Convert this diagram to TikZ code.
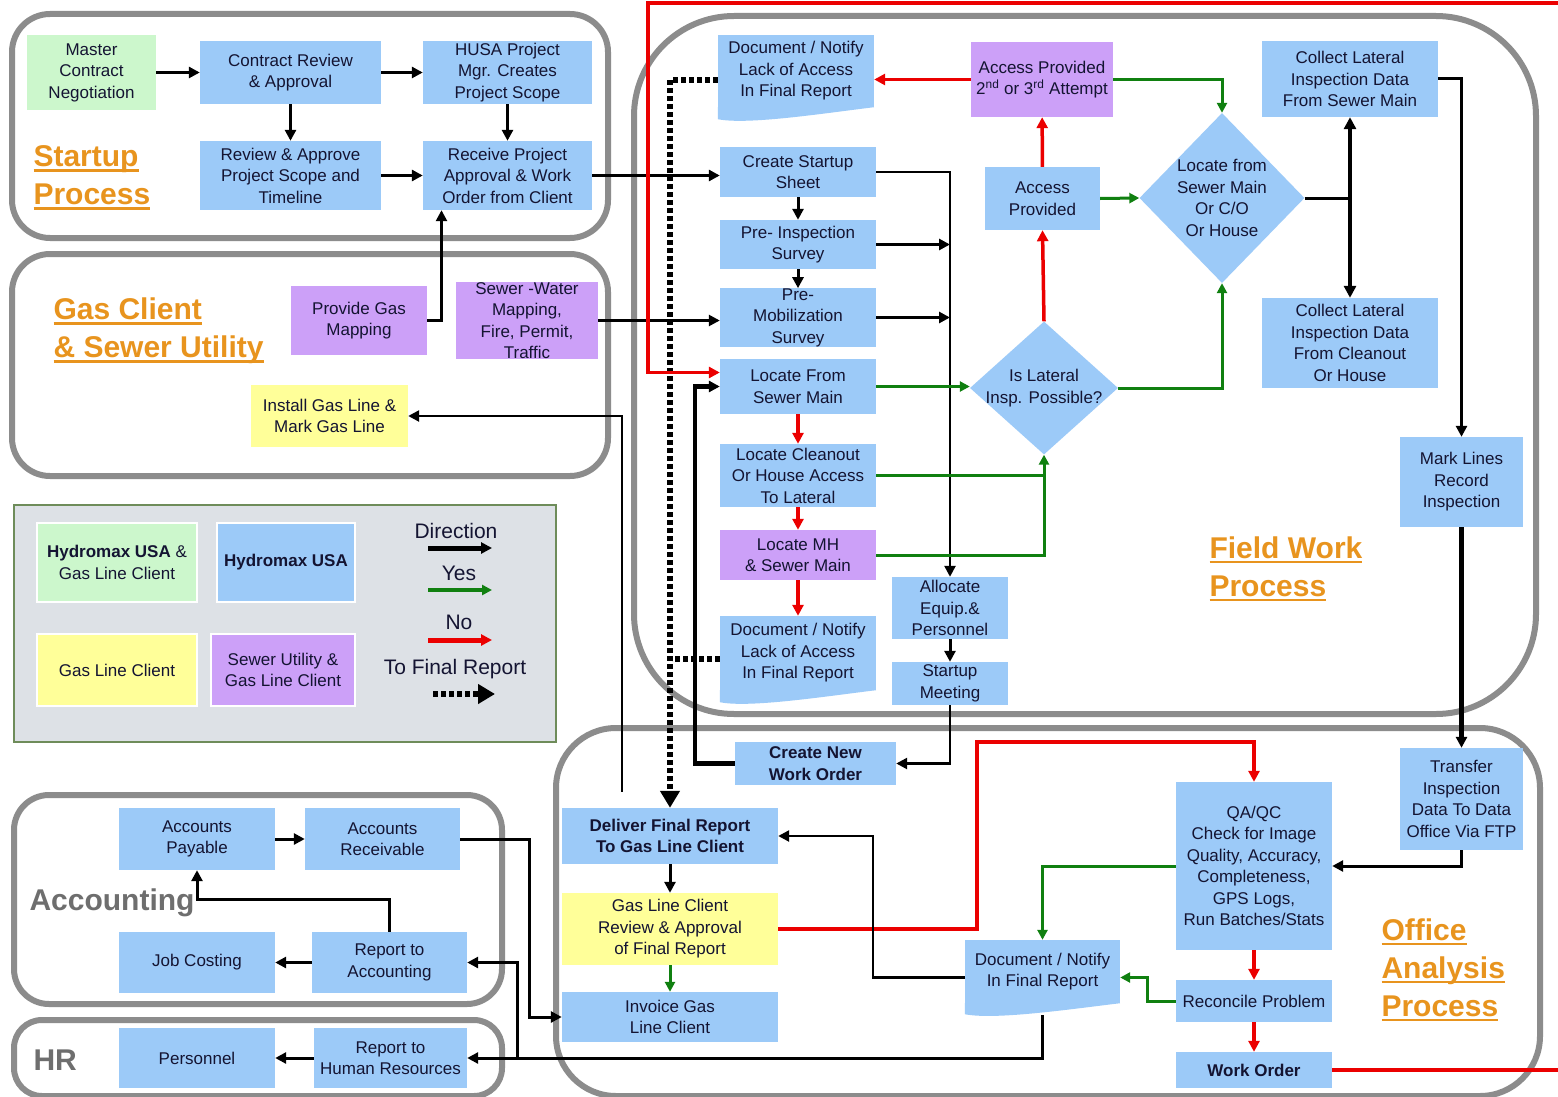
\documentclass[tikz,border=0pt]{standalone}
\usepackage{fontspec}
\setmainfont{Liberation Sans}
\usetikzlibrary{arrows.meta,shapes.geometric}

\definecolor{hblue}{RGB}{156,202,248}
\definecolor{hpurple}{RGB}{204,160,248}
\definecolor{hyellow}{RGB}{255,255,153}
\definecolor{hgreen}{RGB}{204,247,204}
\definecolor{framegray}{RGB}{140,140,140}
\definecolor{orng}{RGB}{232,148,30}
\definecolor{ttlgray}{RGB}{110,110,110}
\definecolor{grnline}{RGB}{16,128,16}
\definecolor{redline}{RGB}{235,0,0}
\definecolor{legbg}{RGB}{221,225,230}
\definecolor{legedge}{RGB}{110,140,90}
\definecolor{txtc}{RGB}{20,20,50}

\newcommand{\orul}[1]{\setbox0=\hbox{#1}\rlap{\rule[-5pt]{\wd0}{2.5pt}}\box0}

\begin{document}
\begin{tikzpicture}[x=1pt, y=-1pt,
    hb/.style={fill=hblue, inner sep=0pt, align=center, text=txtc, font=\fontsize{17}{21.5}\selectfont},
    hp/.style={hb, fill=hpurple},
    hy/.style={hb, fill=hyellow},
    hg/.style={hb, fill=hgreen},
    sz/.style 2 args={minimum width=#1, minimum height=#2},
    dmd/.style={diamond, fill=hblue, inner sep=0pt},
    dtxt/.style={align=center, text=txtc, font=\fontsize{17}{21.5}\selectfont},
    grp/.style={draw=framegray, line width=6pt},
    ttl/.style={anchor=west, align=left, text=orng, font=\fontsize{30}{38}\selectfont\bfseries},
    legtxt/.style={text=txtc, font=\fontsize{21}{25}\selectfont},
    blk/.style={draw=black, line width=3pt, -{Triangle[length=11pt,width=11pt]}},
    grn/.style={draw=grnline, line width=3pt, -{Triangle[length=10pt,width=10pt]}},
    rd/.style={draw=redline, line width=3.5pt, -{Triangle[length=11pt,width=11pt]}},
    dots/.style={draw=black, line width=6pt, dash pattern=on 5pt off 3pt, -{Triangle[length=17pt,width=19pt]}}
  ]
  \useasboundingbox (0,0) rectangle (1558,1097);
  \fill[white] (0,0) rectangle (1558,1097);

  % group frames
  \draw[grp, rounded corners=38pt] (12,14) rectangle (608,238);
  \draw[grp, rounded corners=38pt] (12,254) rectangle (608,476);
  \draw[grp, rounded corners=100pt] (634,16) rectangle (1536,714);
  \draw[grp, rounded corners=60pt] (556,728) rectangle (1540,1096);
  \draw[grp, rounded corners=35pt] (14,795) rectangle (502,1004);
  \draw[grp, rounded corners=28pt] (14,1020) rectangle (502,1096);
  \draw[draw=legedge, fill=legbg, line width=1.5pt] (14,505) rectangle (556,742);

  % titles
  \node[ttl] (tstart) at (30,178) {\orul{Startup}\\\orul{Process}};
  \node[ttl] (tgas) at (50,331) {\orul{Gas Client}\\\orul{\& Sewer Utility}};
  \node[ttl] (tfield) at (1206,569) {\orul{Field Work}\\\orul{Process}};
  \node[ttl] (toffice) at (1378,970) {\orul{Office}\\\orul{Analysis}\\\orul{Process}};
  \node[ttl, text=ttlgray] (tacct) at (26,903) {Accounting};
  \node[ttl, text=ttlgray] (thr) at (30,1060) {HR};

  % startup process
  \node[hg, sz={129}{75}] (master) at (91.5,72.5) {Master\\Contract\\Negotiation};
  \node[hb, sz={181}{63}] (contract) at (290.5,72.5) {Contract Review\\\& Approval};
  \node[hb, sz={169}{63}] (husa) at (507.5,72.5) {HUSA Project\\Mgr. Creates\\Project Scope};
  \node[hb, sz={181}{69}] (revscope) at (290.5,175.5) {Review \& Approve\\Project Scope and\\Timeline};
  \node[hb, sz={169}{69}] (receive) at (507.5,175.5) {Receive Project\\Approval \& Work\\Order from Client};

  % gas client and sewer utility
  \node[hp, sz={136}{69}] (gasmap) at (359,320.5) {Provide Gas\\Mapping};
  \node[hp, sz={142}{69}] (sewer) at (527,320.5) {Sewer -Water\\Mapping,\\Fire, Permit,\\Traffic};
  \node[hy, sz={157}{62}] (install) at (329.5,416) {Install Gas Line \&\\Mark Gas Line};

  % legend
  \node[hg, sz={160}{79}, draw=white, line width=1.5pt] (lg1) at (117,562.5) {\textbf{Hydromax USA} \&\\Gas Line Client};
  \node[hb, sz={138}{79}, draw=white, line width=1.5pt] (lg2) at (286,562.5) {\textbf{Hydromax USA}};
  \node[hy, sz={160}{72}, draw=white, line width=1.5pt] (lg3) at (117,670) {Gas Line Client};
  \node[hp, sz={144}{72}, draw=white, line width=1.5pt] (lg4) at (283,670) {Sewer Utility \&\\Gas Line Client};
  \node[legtxt] (legdir) at (456,531) {Direction};
  \node[legtxt] (legyes) at (459,573) {Yes};
  \node[legtxt] (legno) at (459,622) {No};
  \node[legtxt] (legfin) at (455,669) {To Final Report};

  % field work process
  \node[hb, sz={156}{72}] (doc1) at (796,71) {Document / Notify\\Lack of Access\\In Final Report};
  \node[hp, sz={142}{75}] (accprov2) at (1042,79.5) {Access Provided\\2\textsuperscript{nd} or 3\textsuperscript{rd} Attempt};
  \node[hb, sz={156}{50}] (createstart) at (798,172) {Create Startup\\Sheet};
  \node[hb, sz={156}{49}] (preinsp) at (798,244.5) {Pre- Inspection\\Survey};
  \node[hb, sz={156}{49}] (premob) at (798,317.5) {Pre-\\Mobilization\\Survey};
  \node[hb, sz={156}{55}] (locfrom) at (798,386.5) {Locate From\\Sewer Main};
  \node[hb, sz={156}{63}] (locclean) at (798,475.5) {Locate Cleanout\\Or House Access\\To Lateral};
  \node[hp, sz={156}{50}] (locmh) at (798,555) {Locate MH\\\& Sewer Main};
  \node[hb, sz={156}{74}] (doc2) at (798,653) {Document / Notify\\Lack of Access\\In Final Report};
  \node[hb, sz={116}{62}] (allocate) at (950,608) {Allocate\\Equip.\&\\Personnel};
  \node[hb, sz={116}{43}] (startmeet) at (950,683.5) {Startup\\Meeting};
  \node[hb, sz={115}{63}] (accprov) at (1042.5,198.5) {Access\\Provided};
  \node[dmd, sz={148}{133}, label={[dtxt]center:{Is Lateral\\Insp. Possible?}}] (islat) at (1044,388) {};
  \node[dmd, sz={165}{170}, label={[dtxt]center:{Locate from\\Sewer Main\\Or C/O\\Or House}}] (locsm) at (1222,198) {};
  \node[hb, sz={176}{76}] (collect1) at (1350,79) {Collect Lateral\\Inspection Data\\From Sewer Main};
  \node[hb, sz={176}{90}] (collect2) at (1350,343) {Collect Lateral\\Inspection Data\\From Cleanout\\Or House};
  \node[hb, sz={123}{90}] (marklines) at (1461.5,482) {Mark Lines\\Record\\Inspection};

  % office analysis process
  \node[hb, sz={161}{43}, font=\fontsize{17}{21.5}\selectfont\bfseries] (createnew) at (815.5,763.5) {Create New\\Work Order};
  \node[hb, sz={216}{56}, font=\fontsize{17}{21.5}\selectfont\bfseries] (deliver) at (670,836) {Deliver Final Report\\To Gas Line Client};
  \node[hy, sz={216}{72}] (gasreview) at (670,929) {Gas Line Client\\Review \& Approval\\of Final Report};
  \node[hb, sz={216}{50}] (invoice) at (670,1017) {Invoice Gas\\Line Client};
  \node[hb, sz={155}{63}] (doc3) at (1042.5,971.5) {Document / Notify\\In Final Report};
  \node[hb, sz={156}{168}] (qaqc) at (1254,866) {QA/QC\\Check for Image\\Quality, Accuracy,\\Completeness,\\GPS Logs,\\Run Batches/Stats};
  \node[hb, sz={156}{42}] (reconcile) at (1254,1001) {Reconcile Problem};
  \node[hb, sz={156}{36}, font=\fontsize{17}{21.5}\selectfont\bfseries] (workorder) at (1254,1070) {Work Order};
  \node[hb, sz={123}{102}] (transfer) at (1461.5,799) {Transfer\\Inspection\\Data To Data\\Office Via FTP};

  % accounting and hr
  \node[hb, sz={156}{62}] (ap) at (197,839) {Accounts\\Payable};
  \node[hb, sz={155}{62}] (ar) at (382.5,839) {Accounts\\Receivable};
  \node[hb, sz={156}{61}] (jobcost) at (197,962.5) {Job Costing};
  \node[hb, sz={155}{61}] (rptacct) at (389.5,962.5) {Report to\\Accounting};
  \node[hb, sz={156}{60}] (personnel) at (197,1058) {Personnel};
  \node[hb, sz={153}{60}] (rpthr) at (390.5,1058) {Report to\\Human Resources};

  % document flaps
  \fill[hblue] (doc1.south west) -- ++(0,12) .. controls +(30,6) and +(-50,6) .. (doc1.south east) -- cycle;
  \fill[hblue] (doc2.south west) -- ++(0,12) .. controls +(30,6) and +(-50,6) .. (doc2.south east) -- cycle;
  \fill[hblue] (doc3.south west) -- ++(0,11) .. controls +(30,6) and +(-50,6) .. (doc3.south east) -- cycle;

  % startup connectors
  \draw[blk] (master) -- (contract);
  \draw[blk] (contract) -- (husa);
  \draw[blk] (contract) -- (revscope);
  \draw[blk] (husa) -- (receive);
  \draw[blk] (revscope) -- (receive);
  \draw[blk] (receive.east) -- (receive.east -| createstart.west);
  \draw[blk, line width=2.5pt] (gasmap.east) -| ([xshift=-66pt]receive.south);
  \draw[blk, line width=2.5pt] (sewer.east) -- (sewer.east -| premob.west);
  \draw[blk, line width=2.5pt] ([xshift=-48pt,yshift=16pt]deliver.north) |- (install.east);

  % field work connectors
  \draw[blk] (createstart) -- (preinsp);
  \draw[blk] (preinsp) -- (premob);
  \draw[blk, line width=2.5pt] (createstart.east) -| (allocate.north);
  \draw[blk] (preinsp.east) -- (preinsp.east -| allocate.north);
  \draw[blk] (premob.east) -- (premob.east -| allocate.north);
  \draw[blk] (allocate) -- (startmeet);
  \draw[blk, line width=2.5pt] (startmeet.south) |- (createnew.east);
  \draw[blk, line width=4.5pt] (createnew.west) -| ([xshift=-25pt]locfrom.west) -- (locfrom.west);
  \draw[grn] (locfrom.east) -- (locfrom.east -| islat.west);
  \draw[rd] (locfrom) -- (locclean);
  \draw[rd] (locclean) -- (locmh);
  \draw[rd] (locmh) -- (doc2);
  \draw[grn, -] (locclean.east) -- (locclean.east -| islat.south);
  \draw[grn] (locmh.east) -| (islat.south);
  \draw[rd] (islat.north) -- (accprov.south);
  \draw[rd] (accprov) -- (accprov2);
  \draw[rd] (accprov2.west) -- (accprov2.west -| doc1.east);
  \draw[grn] (accprov2.east) -| (locsm.north);
  \draw[grn] (accprov.east) -- (locsm.west);
  \draw[grn] (islat.east) -| (locsm.south);
  \draw[blk, -] (locsm.east) -- (locsm.east -| collect1.south);
  \draw[blk, line width=4.5pt, {Triangle[length=12pt,width=12pt]}-{Triangle[length=12pt,width=12pt]}] (collect1.south) -- (collect2.north);
  \draw[blk] (collect1.east) -| (marklines.north);
  \draw[blk, line width=4.5pt] (marklines) -- (transfer);
  \draw[dots] ([yshift=-9pt]doc1.west) -| (deliver.north);
  \draw[dots, -] ([yshift=-6pt]doc2.west) -- ++(-48,0);
  \draw[rd] (workorder.east) -- (1561,1070) -- (1561,3) -- (648,3) |- ([yshift=14pt]locfrom.west);

  % office connectors
  \draw[blk] (deliver) -- (gasreview);
  \draw[grn] (gasreview) -- (invoice);
  \draw[rd] (gasreview.east) -- ++(199,0) |- ([yshift=40pt]qaqc.north) -- (qaqc.north);
  \draw[blk] (transfer.south) |- (qaqc.east);
  \draw[grn] (qaqc.west) -| (doc3.north);
  \draw[rd] (qaqc) -- (reconcile);
  \draw[rd] (reconcile) -- (workorder);
  \draw[grn] (reconcile.west) -- ++(-28,0) |- ([yshift=-6pt]doc3.east);
  \draw[blk, line width=2.5pt] ([yshift=-6pt]doc3.west) -| ([xshift=95pt]deliver.east) -- (deliver.east);
  \draw[blk] ([yshift=-12pt]doc3.south) |- (rpthr.east);
  \draw[blk] ([xshift=50pt]rpthr.east) |- (rptacct.east);
  \draw[blk] (ar.east) -| ([xshift=-32pt]invoice.west) -- (invoice.west);

  % accounting connectors
  \draw[blk] (ap) -- (ar);
  \draw[blk] (rptacct.north) -- ++(0,-32) -| (ap.south);
  \draw[blk] (rptacct) -- (jobcost);
  \draw[blk] (rpthr) -- (personnel);

  % legend arrows
  \draw[blk, line width=5pt] ([xshift=-28pt,yshift=-17pt]legdir.center) -- ++(64,0);
  \draw[grn, line width=4pt] ([xshift=-31pt,yshift=-17pt]legyes.center) -- ++(64,0);
  \draw[rd, line width=5pt] ([xshift=-31pt,yshift=-18pt]legno.center) -- ++(64,0);
  \draw[dots] ([xshift=-22pt,yshift=-25pt]legfin.center) -- ++(62,0);
\end{tikzpicture}
\end{document}
